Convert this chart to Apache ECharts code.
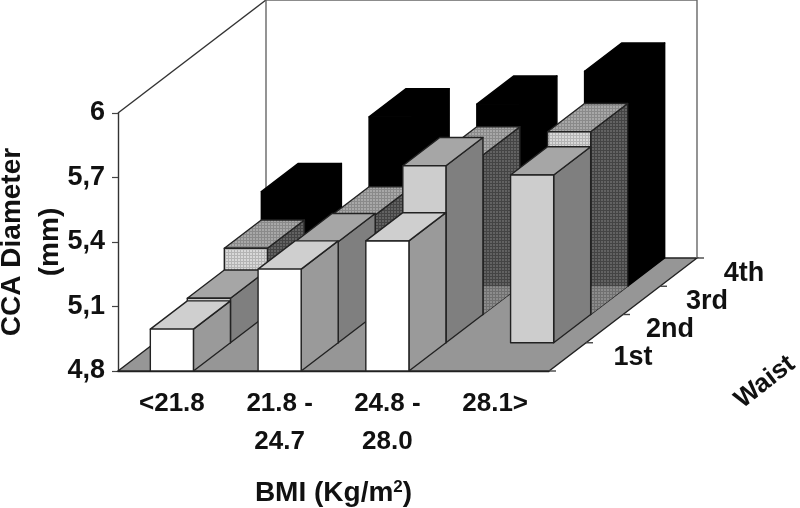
<!DOCTYPE html>
<html>
<head>
<meta charset="utf-8">
<style>html,body{margin:0;padding:0;background:#fff}#c{width:800px;height:508px}</style>
<script src="https://cdn.jsdelivr.net/npm/echarts@6/dist/echarts.min.js"></script>
</head>
<body>
<div id="c"></div>
<script>
const categories = ['<21.8', '21.8 -\n24.7', '24.8 -\n28.0', '28.1>'];
const waistLabels = ['1st', '2nd', '3rd', '4th'];
const yTicks = ['4,8', '5,1', '5,4', '5,7', '6'];
const waist1st = [4.995, 5.274, 5.405, null];
const waist2nd = [5.007, 5.27, 5.623, 5.58];
const waist3rd = [5.108, 5.263, 5.542, 5.65];
const waist4th = [5.24, 5.588, 5.647, 5.8];

const FONT = '"Liberation Sans", Arial, sans-serif';
const DX = 37, DY = -28.25, DEPTHS = 4;
const EDGE = '#222';

function patternCanvas(bg, fg, step) {
  const c = document.createElement('canvas');
  c.width = step; c.height = step;
  const g = c.getContext('2d');
  g.fillStyle = bg; g.fillRect(0, 0, step, step);
  g.fillStyle = fg; g.fillRect(0, 0, step, 1); g.fillRect(0, 0, 1, step);
  return { image: c, repeat: 'repeat' };
}

const looks = [
  { front: '#ffffff', top: '#cfcfcf', side: '#9a9a9a' },
  { front: '#cdcdcd', top: '#a6a6a6', side: '#7f7f7f' },
  { front: patternCanvas('#d8d8d8', '#b4b4b4', 3), top: patternCanvas('#a8a8a8', '#8a8a8a', 3), side: patternCanvas('#626262', '#444444', 3), foot: patternCanvas('#8c8c8c', '#707070', 3) },
  { front: '#000000', top: '#000000', side: '#000000' }
];

function barItem(depth) {
  return function (params, api) {
    const v = api.value(1);
    if (v == null || isNaN(v)) return null;
    const i = api.value(0);
    const w = api.size([1, 0])[0] * 0.4;
    const top = api.coord([i, v]);
    const base = api.coord([i, 4.8]);
    const ox = depth * DX, oy = depth * DY;
    const xl = top[0] - w / 2 + ox, xr = xl + w;
    const yt = top[1] + oy, yb = base[1] + oy;
    const stroke = { stroke: depth === 3 ? '#000' : EDGE, lineWidth: 1.4, lineJoin: 'round' };
    const poly = (pts, fill) => ({ type: 'polygon', shape: { points: pts }, style: Object.assign({ fill }, stroke) });
    const children = [
      poly([[xr, yb], [xr + DX, yb + DY], [xr + DX, yt + DY], [xr, yt]], looks[depth].side)
    ];
    if (looks[depth].foot) {
      children.push({ type: 'polygon', shape: { points: [[xr, yb], [xr + DX, yb + DY], [xr, yb + DY]] }, style: { fill: looks[depth].foot } });
    }
    children.push(
      poly([[xl, yt], [xr, yt], [xr + DX, yt + DY], [xl + DX, yt + DY]], looks[depth].top),
      poly([[xl, yb], [xr, yb], [xr, yt], [xl, yt]], looks[depth].front)
    );
    return { type: 'group', children };
  };
}

function roomItem(params, api) {
  const cs = params.coordSys;
  const x0 = cs.x, x1 = cs.x + cs.width, yT = cs.y, yB = cs.y + cs.height;
  const bx = DEPTHS * DX, by = DEPTHS * DY;
  const line = (a, b, color) => ({ type: 'line', shape: { x1: a[0], y1: a[1], x2: b[0], y2: b[1] }, style: { stroke: color, lineWidth: 1.4 } });
  const kids = [
    { type: 'polygon', shape: { points: [[x0, yB], [x1, yB], [x1 + bx, yB + by], [x0 + bx, yB + by]] }, style: { fill: '#969696', stroke: '#222', lineWidth: 1.4 } },
    line([x0, yT], [x0 + bx, yT + by], '#333'),
    line([x0 + bx, yT + by], [x0 + bx, yB + by], '#666'),
    line([x0 + bx, yT + by], [x1 + bx, yT + by], '#666'),
    line([x1 + bx, yT + by], [x1 + bx, yB + by], '#666')
  ];
  for (let d = 0; d <= DEPTHS; d++) {
    kids.push(line([x1 + d * DX, yB + d * DY], [x1 + d * DX + 7, yB + d * DY], '#444'));
  }
  waistLabels.forEach((t, d) => {
    kids.push({
      type: 'text', x: x1 + d * DX + 84, y: yB + d * DY - 13,
      style: { text: t, font: 'bold 27px ' + FONT, fill: '#111', textAlign: 'center', textVerticalAlign: 'middle' }
    });
  });
  kids.push({
    type: 'text', x: x1 + 216, y: yB + 11, rotation: 38 * Math.PI / 180,
    style: { text: 'Waist', font: 'bold 26px ' + FONT, fill: '#111', textAlign: 'center', textVerticalAlign: 'middle' }
  });
  return { type: 'group', children: kids };
}

const toData = arr => arr.map((v, i) => [i, v]);

const chart = echarts.init(document.getElementById('c'), null, { renderer: 'canvas' });
chart.setOption({
  animation: false,
  backgroundColor: '#fff',
  grid: { left: 118, right: 251, top: 113, bottom: 137, outerBoundsMode: 'none' },
  xAxis: {
    type: 'category',
    data: categories,
    axisLine: { lineStyle: { color: '#222', width: 1.4 } },
    axisTick: { length: 6, lineStyle: { color: '#444', width: 1.2 } },
    axisLabel: { color: '#111', fontFamily: FONT, fontWeight: 'bold', fontSize: 26, lineHeight: 38, margin: 14, interval: 0, hideOverlap: false },
    name: 'BMI (Kg/m{s|2})',
    nameLocation: 'middle',
    nameGap: 108,
    nameMoveOverlap: false,
    nameTextStyle: {
      color: '#111', fontFamily: FONT, fontWeight: 'bold', fontSize: 28,
      rich: { s: { fontSize: 17, fontWeight: 'bold', fontFamily: FONT, color: '#111', verticalAlign: 'top', padding: [0, 0, 10, 0] } }
    }
  },
  yAxis: {
    type: 'value',
    min: 4.8,
    max: 6,
    interval: 0.3,
    axisLine: { show: true, lineStyle: { color: '#333', width: 1.4 } },
    axisTick: { show: true, length: 6, lineStyle: { color: '#444', width: 1.2 } },
    splitLine: { show: false },
    axisLabel: {
      color: '#111', fontFamily: FONT, fontWeight: 'bold', fontSize: 27, margin: 13,
      formatter: (v) => yTicks[Math.round((v - 4.8) / 0.3)]
    },
    name: 'CCA Diameter\n(mm)',
    nameLocation: 'middle',
    nameGap: 49,
    nameRotate: 90,
    nameMoveOverlap: false,
    nameTextStyle: { color: '#111', fontFamily: FONT, fontWeight: 'bold', fontSize: 28, lineHeight: 38 }
  },
  series: [
    { type: 'custom', name: 'room', data: [[0, 4.8]], renderItem: roomItem, silent: true, clip: false, z: 1 },
    { type: 'custom', name: '4th', data: toData(waist4th), renderItem: barItem(3), clip: false, z: 2 },
    { type: 'custom', name: '3rd', data: toData(waist3rd), renderItem: barItem(2), clip: false, z: 3 },
    { type: 'custom', name: '2nd', data: toData(waist2nd), renderItem: barItem(1), clip: false, z: 4 },
    { type: 'custom', name: '1st', data: toData(waist1st), renderItem: barItem(0), clip: false, z: 5 }
  ]
});
</script>
</body>
</html>
